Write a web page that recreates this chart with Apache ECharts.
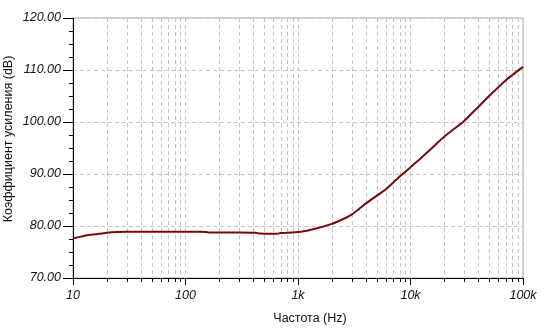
<!DOCTYPE html>
<html>
<head>
<meta charset="utf-8">
<script src="https://cdn.jsdelivr.net/npm/echarts@6/dist/echarts.min.js"></script>
<style>html,body{margin:0;padding:0;background:#fff}#c{width:546px;height:336px}</style>
</head>
<body>
<div id="c"></div>
<script>
var freqs = [10,12,14,17,20,25,30,50,100,140,160,200,300,420,460,550,650,700,900,1000,1200,1500,2000,2500,3000,3500,4000,5000,6000,8000,10000,12000,15000,20000,30000,40000,50000,70000,100000];
var gainDb = [77.6,78.0,78.3,78.5,78.7,78.85,78.9,78.9,78.9,78.9,78.75,78.75,78.75,78.7,78.55,78.5,78.5,78.65,78.75,78.85,79.1,79.6,80.4,81.3,82.2,83.3,84.3,85.8,87.0,89.5,91.3,92.8,94.7,97.2,100.2,102.9,105.0,108.0,110.6];
var minorFreqs = [20,30,40,50,60,70,80,90,200,300,400,500,600,700,800,900,2000,3000,4000,5000,6000,7000,8000,9000,20000,30000,40000,50000,60000,70000,80000,90000];
var xTickLabels = {10:'10',100:'100',1000:'1k',10000:'10k',100000:'100k'};
var yMin = 70, yMax = 120, yStep = 10;
var yTitle = 'Коэффициент усиления (dB)';
var xTitle = 'Частота (Hz)';

var chart = echarts.init(document.getElementById('c'), null, {renderer:'canvas'});
var gridColor = '#c4c4c4';
var fam = '"Liberation Sans", Arial, sans-serif';
var labelStyle = {fontFamily:fam, fontSize:12.5, fontStyle:'italic', color:'#111'};
chart.setOption({
  animation:false,
  grid:{left:73,right:23,top:18,bottom:58,containLabel:false,outerBoundsMode:'none',show:true,borderColor:'#a8a8a8',borderWidth:1,backgroundColor:'#fff'},
  graphic:[{
    type:'text', left:2, top:139, rotation:Math.PI/2, silent:true,
    style:{text:yTitle, fontFamily:fam, fontSize:12.5, fill:'#111', align:'center', verticalAlign:'middle', x:0, y:0},
    x:9, y:139, left:null, top:null
  }],
  xAxis:{
    type:'log', logBase:10, min:10, max:100000,
    name:xTitle, nameLocation:'middle', nameGap:34,
    nameTextStyle:{fontFamily:fam, fontSize:12.5, color:'#111', padding:[0,0,0,24]},
    axisLine:{lineStyle:{color:'#000',width:1}},
    axisTick:{show:true,length:7,lineStyle:{color:'#000'}},
    axisLabel:Object.assign({margin:11, formatter:function(v){return xTickLabels[Math.round(v)]||'';}}, labelStyle),
    splitLine:{show:true,lineStyle:{color:gridColor,type:[4,3],width:1}},
    minorTick:{show:false}
  },
  yAxis:{
    type:'value', min:yMin, max:yMax, interval:yStep,
    axisLine:{show:true,lineStyle:{color:'#000',width:1}},
    axisTick:{show:true,length:10,lineStyle:{color:'#000'}},
    minorTick:{show:true,splitNumber:4,length:4,lineStyle:{color:'#000'}},
    axisLabel:Object.assign({margin:12, formatter:function(v){return v.toFixed(2);}}, labelStyle),
    splitLine:{show:true,lineStyle:{color:gridColor,type:[4,3],width:1}}
  },
  series:[
    {
      type:'custom', silent:true, z:1,
      data:minorFreqs.map(function(f){return [f];}),
      encode:{x:0},
      renderItem:function(params, api){
        var f = api.value(0);
        var top = api.coord([f, yMax]);
        var bot = api.coord([f, yMin]);
        var x = Math.round(top[0]) + 0.5;
        return {type:'group', children:[
          {type:'line', shape:{x1:x,y1:top[1],x2:x,y2:bot[1]}, style:{stroke:gridColor,lineWidth:1,lineDash:[4,3]}},
          {type:'line', shape:{x1:x,y1:bot[1],x2:x,y2:bot[1]+4}, style:{stroke:'#000',lineWidth:1}}
        ]};
      }
    },
    {
      type:'line', z:3,
      data:freqs.map(function(f,i){return [f, gainDb[i]];}),
      showSymbol:false, symbol:'none',
      lineStyle:{color:'#7a0a0a', width:2},
      smooth:0.2
    }
  ]
});
</script>
</body>
</html>
